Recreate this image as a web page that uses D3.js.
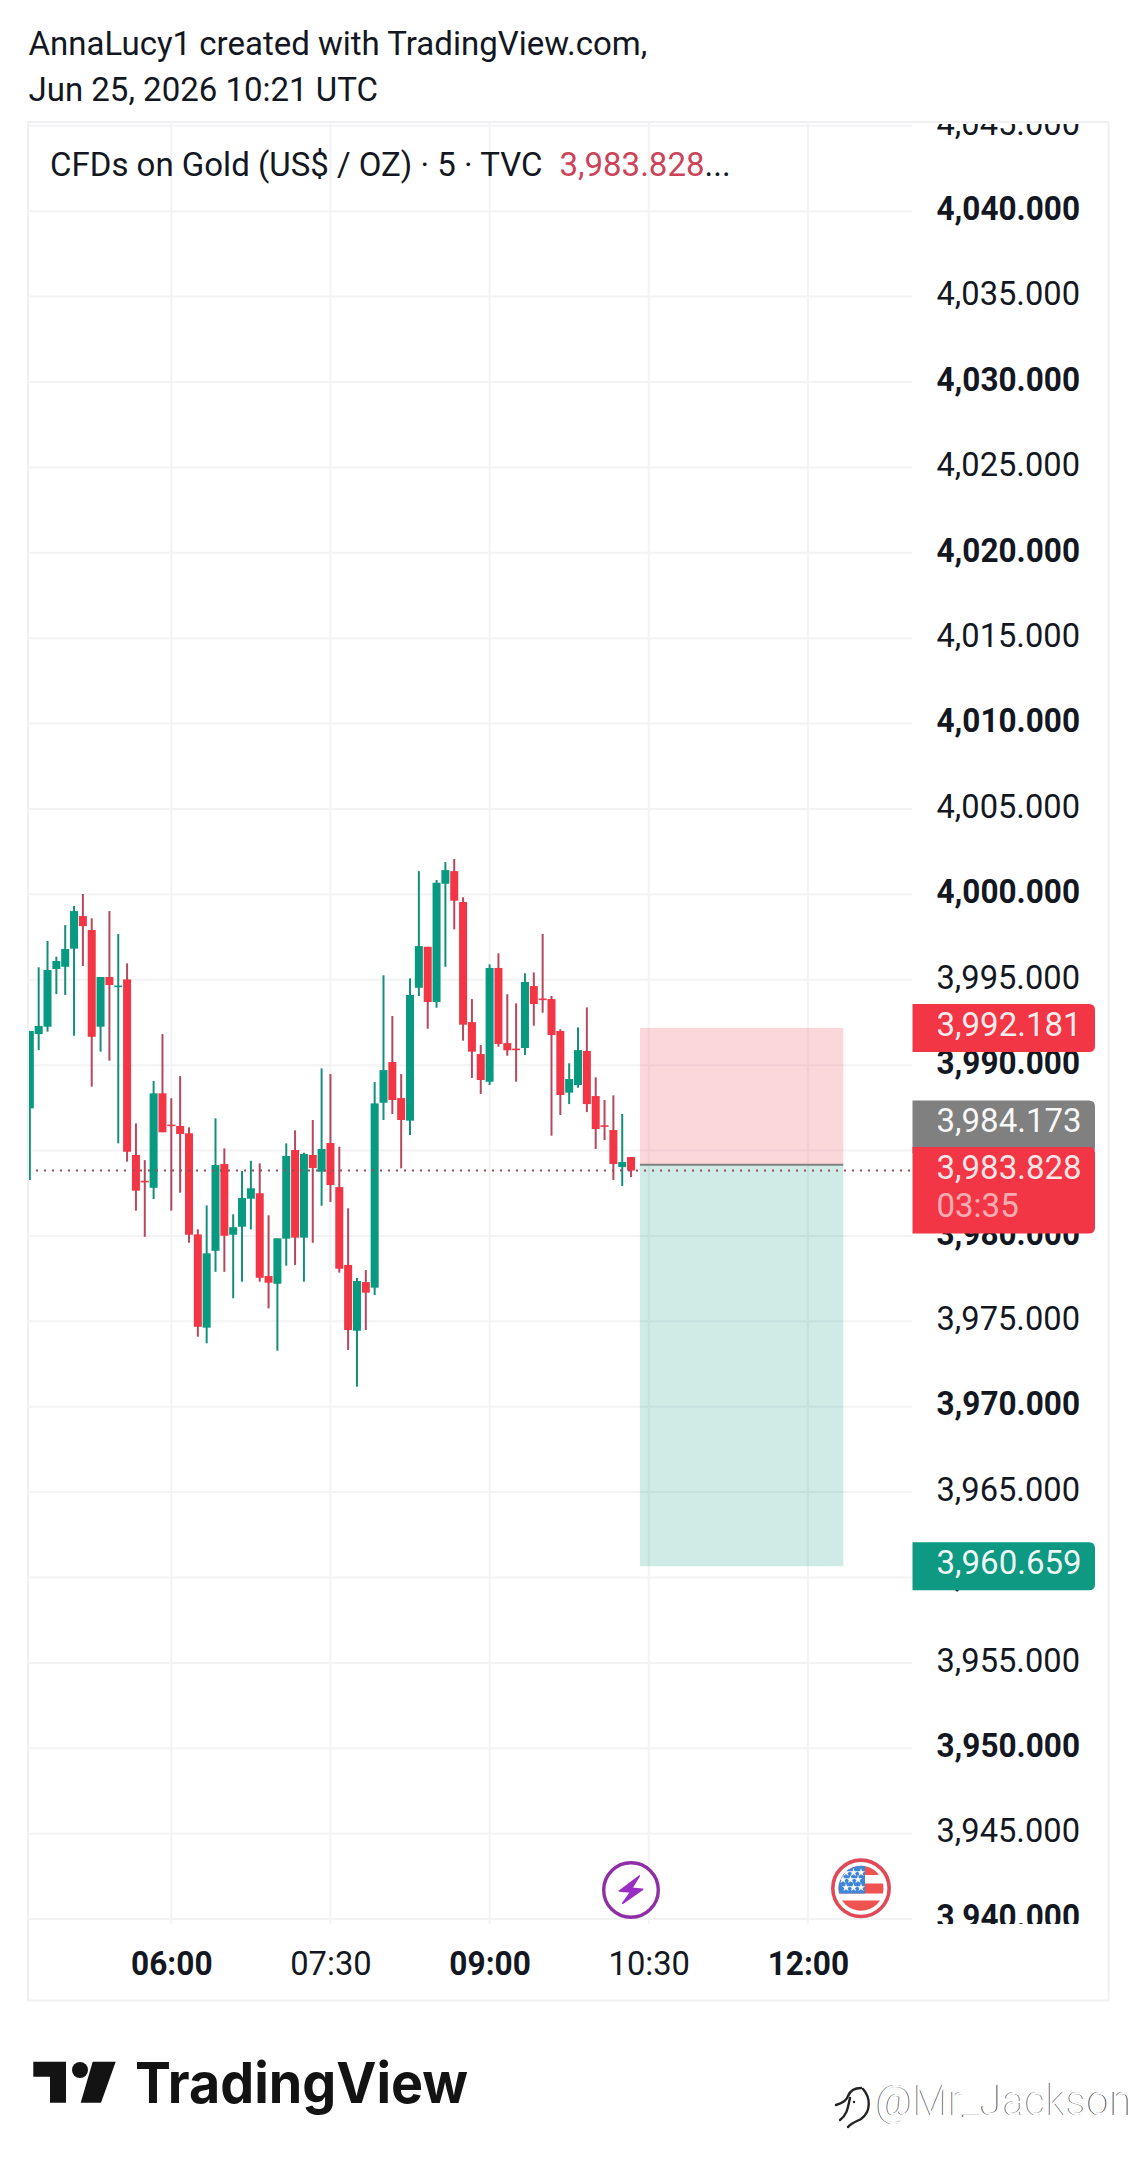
<!DOCTYPE html>
<html>
<head>
<meta charset="utf-8">
<title>CFDs on Gold 5-minute chart</title>
<script src="https://cdn.jsdelivr.net/npm/d3@7/dist/d3.min.js"></script>
<style>
  html, body { margin: 0; padding: 0; background: #fff; }
  svg { display: block; }
  text { font-family: Roboto, sans-serif; }
</style>
</head>
<body>
<svg id="chart" width="1137" height="2166"></svg>
<script>
// Five-minute bars, oldest first; the bar at index 16 opens at 06:00.
const opens = [3987.47,3991.82,3992.25,3995.63,3995.76,3996.82,3998.73,3997.91,3992.25,3995.16,3994.60,3995.02,3984.74,3983.23,3982.82,3988.35,3986.52,3986.44,3986.01,3980.09,3974.63,3979.13,3984.21,3980.07,3980.54,3982.18,3982.50,3977.65,3977.20,3979.84,3985.03,3979.90,3984.74,3983.76,3985.44,3982.86,3978.30,3974.45,3977.30,3976.97,3987.80,3990.18,3988.07,3986.75,3994.53,3996.93,3993.70,4000.62,4001.36,3999.55,3992.52,3990.65,3989.03,3995.69,3991.29,3990.97,3991.00,3994.63,3993.90,3993.87,3992.00,3988.39,3988.84,3990.83,3988.19,3986.48,3986.20,3984.03,3984.62];
const highs = [3992.00,3995.73,3997.27,3996.35,3998.20,3999.32,4000.02,3998.60,3995.16,3999.02,3997.68,3995.96,3986.59,3984.44,3989.07,3991.82,3988.06,3989.36,3986.36,3980.39,3981.79,3986.89,3985.13,3981.27,3983.80,3984.40,3984.25,3981.21,3979.86,3985.42,3986.18,3984.87,3986.79,3989.81,3989.48,3985.22,3981.62,3977.54,3978.00,3989.01,3995.26,3992.88,3989.48,3995.08,4001.36,3996.93,4000.84,4001.89,4002.07,3999.83,3993.87,3991.18,3995.90,3996.55,3994.15,3993.62,3995.38,3995.43,3997.68,3994.05,3992.10,3990.11,3992.21,3993.38,3989.29,3987.96,3988.23,3987.14,3984.62];
const lows = [3983.27,3990.88,3991.96,3994.16,3994.11,3991.72,3995.80,3988.74,3990.79,3990.26,3985.42,3984.35,3981.48,3979.95,3982.16,3986.07,3981.48,3982.53,3979.60,3974.10,3973.71,3977.90,3977.90,3976.35,3977.32,3980.39,3977.32,3975.76,3973.28,3978.26,3978.30,3977.32,3979.60,3981.77,3981.99,3977.85,3973.32,3971.17,3974.49,3976.54,3986.79,3987.14,3983.96,3985.91,3994.05,3992.13,3993.36,3995.76,3997.95,3991.43,3989.25,3988.31,3988.84,3991.08,3990.55,3989.03,3990.59,3992.31,3993.07,3985.87,3987.08,3987.72,3988.68,3987.25,3985.09,3985.61,3983.27,3982.92,3983.45];
const closes = [3992.00,3992.29,3995.57,3996.10,3996.80,3999.02,3998.14,3991.66,3995.16,3994.69,3994.66,3984.93,3982.65,3983.17,3988.35,3986.07,3986.46,3985.97,3980.07,3974.68,3978.98,3984.15,3980.01,3980.51,3982.22,3982.79,3977.55,3977.26,3979.86,3984.68,3979.90,3984.80,3983.98,3985.09,3982.98,3978.08,3974.49,3977.36,3976.68,3987.76,3989.71,3987.96,3986.79,3994.11,3996.97,3993.70,4000.68,4001.42,3999.63,3992.37,3990.79,3989.13,3995.69,3991.24,3990.87,3990.91,3994.87,3993.58,3993.84,3991.76,3988.25,3989.19,3990.88,3987.72,3986.26,3986.42,3984.21,3984.33,3983.828];

const priceTicks = [4045,4040,4035,4030,4025,4020,4015,4010,4005,4000,3995,3990,3985,3980,3975,3970,3965,3960,3955,3950,3945,3940];
const timeTickBars = [16,34,52,70,88];
const timeTickLabels = ["06:00","07:30","09:00","10:30","12:00"];
const boldTimeLabels = ["06:00","09:00","12:00"];

// Short position drawing: stop, entry, target and the bars it spans.
const stopPrice = 3992.181;
const entryPrice = 3984.173;
const targetPrice = 3960.659;
const lastPrice = 3983.828;
const positionBars = [69,92];

const RED = "#F23645", GREEN = "#089981", INK = "#131722", GRID = "#f3f3f5";
const RED_WICK = "#b5485c", GREEN_WICK = "#148f7c";
const FONT_SIZE = 33, PRICE_WIDTH = 143.5, TIME_WIDTH = 81.5;
const svg = d3.select("#chart");

const plot = { left: 28, right: 912, top: 126, bottom: 1919 };
const x = d3.scaleLinear().domain([16,88]).range([171.3,807.9]);
const y = d3.scaleLinear().domain([3940,4045]).range([1919.1,125.8]);

const defs = svg.append("defs");
defs.append("clipPath").attr("id","plot-clip").append("rect")
  .attr("x",plot.left+1).attr("y",plot.top).attr("width",plot.right-plot.left-1).attr("height",plot.bottom-plot.top);
defs.append("clipPath").attr("id","scale-clip").append("rect")
  .attr("x",plot.right).attr("y",124).attr("width",190).attr("height",1800);
defs.append("clipPath").attr("id","flag-clip").append("circle").attr("cx",861).attr("cy",1888.3).attr("r",22.5);

// Attribution header
svg.append("text").attr("x",28.5).attr("y",54.5).attr("font-size",FONT_SIZE).attr("fill",INK)
  .text("AnnaLucy1 created with TradingView.com,");
svg.append("text").attr("x",28.5).attr("y",100.7).attr("font-size",FONT_SIZE).attr("fill",INK)
  .text("Jun 25, 2026 10:21 UTC");

// Panel frame
svg.append("rect").attr("x",28).attr("y",122).attr("width",1080.5).attr("height",1878.5)
  .attr("fill","none").attr("stroke","#f0f0f2").attr("stroke-width",2);

// Grid
const grid = svg.append("g");
grid.selectAll(".h").data(priceTicks).join("line")
  .attr("x1",plot.left).attr("x2",plot.right)
  .attr("y1",d=>y(d)).attr("y2",d=>y(d)).attr("stroke",GRID).attr("stroke-width",2);
grid.selectAll(".v").data(timeTickBars).join("line")
  .attr("x1",d=>x(d)).attr("x2",d=>x(d))
  .attr("y1",122).attr("y2",1924).attr("stroke",GRID).attr("stroke-width",2);

// Candles
const bars = opens.map((o,i)=>({i,o,h:highs[i],l:lows[i],c:closes[i]}));
const isUp = d => d.c >= d.o;
const candles = svg.append("g").attr("clip-path","url(#plot-clip)");
candles.selectAll(".wick").data(bars).join("line")
  .attr("x1",d=>x(d.i)).attr("x2",d=>x(d.i))
  .attr("y1",d=>y(d.h)).attr("y2",d=>y(d.l))
  .attr("stroke",d=>isUp(d)?GREEN_WICK:RED_WICK).attr("stroke-width",2);
candles.selectAll(".body").data(bars).join("rect")
  .attr("x",d=>x(d.i)-4).attr("width",8)
  .attr("y",d=>y(Math.max(d.o,d.c)))
  .attr("height",d=>Math.max(1.6,Math.abs(y(d.o)-y(d.c))))
  .attr("fill",d=>isUp(d)?GREEN:RED);

// Position zones
svg.append("rect").attr("x",x(positionBars[0])).attr("width",x(positionBars[1])-x(positionBars[0]))
  .attr("y",y(stopPrice)).attr("height",y(entryPrice)-y(stopPrice))
  .attr("fill",RED).attr("fill-opacity",0.2);
svg.append("rect").attr("x",x(positionBars[0])).attr("width",x(positionBars[1])-x(positionBars[0]))
  .attr("y",y(entryPrice)).attr("height",y(targetPrice)-y(entryPrice))
  .attr("fill",GREEN).attr("fill-opacity",0.2);
svg.append("line").attr("x1",x(positionBars[0])).attr("x2",x(positionBars[1]))
  .attr("y1",y(entryPrice)).attr("y2",y(entryPrice)).attr("stroke","#808080").attr("stroke-width",2);

// Last-price line
svg.append("line").attr("x1",36).attr("x2",plot.right)
  .attr("y1",y(lastPrice)).attr("y2",y(lastPrice))
  .attr("stroke","#9a4a58").attr("stroke-width",2).attr("stroke-dasharray","2 6");

// Price scale
const priceAxis = svg.append("g").attr("clip-path","url(#scale-clip)").append("g")
  .attr("transform",`translate(936.5,0)`)
  .call(d3.axisRight(y).tickValues(priceTicks).tickFormat(d3.format(",.3f")).tickSize(0).tickPadding(0));
priceAxis.select(".domain").remove();
priceAxis.selectAll("text")
  .attr("dy","0.25em")
  .attr("font-family","Roboto, sans-serif")
  .attr("font-size",FONT_SIZE)
  .attr("fill",INK)
  .attr("font-weight",d=>d%10===0?700:400)
  .attr("textLength",PRICE_WIDTH)
  .attr("lengthAdjust","spacingAndGlyphs");

// Time scale
const timeAxis = svg.append("g").attr("transform","translate(0,1975)")
  .call(d3.axisBottom(x).tickValues(timeTickBars)
    .tickFormat((d,i)=>timeTickLabels[i]).tickSize(0).tickPadding(0));
timeAxis.select(".domain").remove();
timeAxis.selectAll("text")
  .attr("y",0).attr("dy",0)
  .attr("font-family","Roboto, sans-serif")
  .attr("font-size",FONT_SIZE)
  .attr("fill",INK)
  .attr("font-weight",(d,i)=>boldTimeLabels.includes(timeTickLabels[i])?700:400)
  .attr("textLength",TIME_WIDTH)
  .attr("lengthAdjust","spacingAndGlyphs");

// Legend line
const legend = svg.append("text").attr("x",50).attr("y",175.7).attr("font-size",FONT_SIZE).attr("fill",INK);
legend.append("tspan").text("CFDs on Gold (US$ / OZ) · 5 · TVC");
legend.append("tspan").attr("dx",17).attr("fill","#cc4459").text(d3.format(",.3f")(lastPrice));
legend.append("tspan").text("...");

// Price tags with a flat edge on the plot side and rounded corners on the outer side
function tag(top, bottom, fill) {
  const l = 912.5, r = 1095, c = 6;
  svg.append("path").attr("fill",fill)
    .attr("d",`M${l},${top}H${r-c}Q${r},${top} ${r},${top+c}V${bottom-c}Q${r},${bottom} ${r-c},${bottom}H${l}Z`);
}
function tagText(baseline, str, opacity) {
  svg.append("text").attr("x",936.5).attr("y",baseline).attr("font-size",FONT_SIZE)
    .attr("fill","#fff").attr("fill-opacity",opacity).text(str);
}
const fmt = d3.format(",.3f");
tag(y(stopPrice)-24, y(stopPrice)+24, RED);
tagText(y(stopPrice)+8, fmt(stopPrice), 0.92);
tag(y(targetPrice)-24, y(targetPrice)+24, "#0e9a82");
tagText(y(targetPrice)+8, fmt(targetPrice), 0.95);
tag(1100.5, 1153, "#808080");
tagText(1131.7, fmt(entryPrice), 0.95);
tag(1147, 1233.5, RED);
tagText(1179, fmt(lastPrice), 0.88);
tagText(1216.7, "03:35", 0.6);

// Event markers on the time scale
const bolt = svg.append("g");
bolt.append("circle").attr("cx",631).attr("cy",1890).attr("r",27.3)
  .attr("fill","#fff").attr("stroke","#8e2fa6").attr("stroke-width",3.4);
bolt.append("path").attr("d","M639.3,1876L619.3,1891L630.7,1892L622.7,1903.3L642.7,1889.3L631.7,1888.3Z")
  .attr("fill","#9a2ec4").attr("stroke","#9a2ec4").attr("stroke-width",1.5).attr("stroke-linejoin","round");

const flag = svg.append("g");
flag.append("circle").attr("cx",861).attr("cy",1888.3).attr("r",28.2)
  .attr("fill","#fff").attr("stroke","#e04a58").attr("stroke-width",3.6);
const flagBody = flag.append("g").attr("clip-path","url(#flag-clip)");
const stripes = [[1864,1875],[1883.5,1893.5],[1900.5,1912]];
flagBody.selectAll(".stripe").data(stripes).join("rect")
  .attr("x",835).attr("width",55).attr("y",d=>d[0]).attr("height",d=>d[1]-d[0]).attr("fill","#ee5350");
flagBody.append("rect").attr("x",835).attr("y",1864).attr("width",30).attr("height",29.5).attr("fill","#3f86d8");
const starRows = [1872.5,1879.5,1887.5], starCols = [846,853.5,861];
starRows.forEach(sy => starCols.forEach(sx => {
  flagBody.append("path")
    .attr("transform",`translate(${sx-(sy===1879.5?3:0)},${sy})`)
    .attr("d",d3.symbol(d3.symbolStar,22)()).attr("fill","#fff");
}));

// TradingView wordmark
const mark = svg.append("g").attr("fill","#131313");
mark.append("path").attr("d","M33.3,2061.7H66V2102.7H50V2076.7H33.3Z");
mark.append("circle").attr("cx",80).attr("cy",2070).attr("r",8);
mark.append("path").attr("d","M92.7,2061.7H115.7L101,2102.7H80.7Z");
svg.append("text").attr("x",135).attr("y",2102.7).attr("fill","#131313")
  .attr("font-weight",700).attr("font-size",56)
  .attr("textLength",333).attr("lengthAdjust","spacingAndGlyphs").style("font-family","Inter, sans-serif")
  .text("TradingView");

// Embossed account tag in the lower corner
const tagGroup = svg.append("g");
tagGroup.append("text").attr("x",875.2).attr("y",2115).attr("font-size",42).attr("font-weight",300)
  .attr("fill","#444").attr("textLength",257).attr("lengthAdjust","spacingAndGlyphs").text("@Mr_Jackson");
tagGroup.append("text").attr("x",876).attr("y",2115.4).attr("font-size",42).attr("font-weight",300)
  .attr("fill","#fff").attr("textLength",257).attr("lengthAdjust","spacingAndGlyphs").text("@Mr_Jackson");
tagGroup.append("path")
  .attr("d","M836,2105C843,2103 847,2100 848,2096C850,2091 855,2088 861,2088M850,2098C848,2106 848,2114 840,2120M863,2089C871,2098 871,2112 861,2119C855,2122 850,2124 848,2127")
  .attr("fill","none").attr("stroke","#222").attr("stroke-width",2.4).attr("stroke-linecap","round");
tagGroup.append("circle").attr("cx",854).attr("cy",2102).attr("r",1.2).attr("fill","#222");
</script>
</body>
</html>
